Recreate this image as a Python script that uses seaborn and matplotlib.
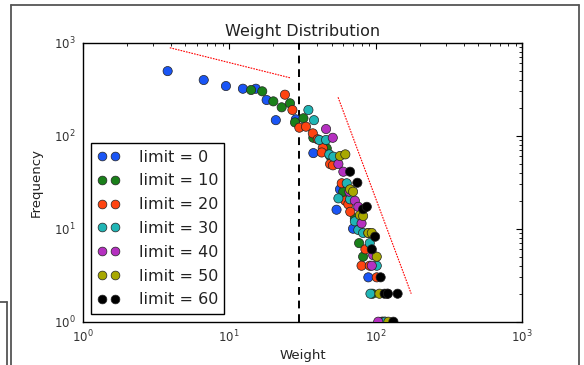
import numpy as np
import pandas as pd
import matplotlib
matplotlib.use("Agg")
import matplotlib.pyplot as plt
from matplotlib.lines import Line2D
import seaborn as sns

# ---------------- data ----------------
limits = [0, 10, 20, 30, 40, 50, 60]
labels = ["limit = %d" % l for l in limits]
colors = ["#1a55f5", "#1a801a", "#ff4411", "#20b5b5", "#b530c0", "#a8a800", "#000000"]

w0 = [3.8, 6.7, 9.5, 12.4, 15.2, 18.0, 20.8, 28.5, 37.5, 54, 57, 70, 89, 110]
f0 = [495, 397, 342, 320, 320, 242, 147, 150, 65, 16, 26.5, 10, 3, 1]

w10 = [14.1, 16.8, 20.0, 22.8, 26.0, 28.1, 32.1, 37.5, 46.3, 48.8, 60, 72, 77, 82, 95, 112]
f10 = [310, 300, 234, 202, 223, 139, 154, 95, 73, 60.5, 25, 12.9, 7.0, 5.0, 2, 1]

w20 = [24.0, 27.0, 30.1, 33.4, 37.2, 40.2, 43.5, 42.8, 48.8, 51, 58.6, 62, 65, 67, 74, 80, 85, 91, 101.6, 120, 115]
f20 = [276, 189, 122, 125, 106, 91.5, 74, 66, 49.6, 48, 30.8, 20, 18.3, 15.2, 12, 4, 6, 4, 3, 2, 1]

w30 = [34.7, 37.9, 41.2, 45.8, 48.2, 51.4, 55.6, 63.4, 66.8, 72, 76, 82, 91, 101.6, 92, 116]
f30 = [189, 147, 90, 90, 63, 59.5, 21.2, 30.8, 20.7, 12, 9.7, 9, 7, 4, 2, 1]

w40 = [45.8, 50.9, 55.6, 60.1, 66, 72, 76, 80, 89, 94, 96, 104]
f40 = [118, 95, 49.6, 41, 25, 20, 17.2, 11.4, 9, 4, 5.2, 1]

w50 = [57, 62, 66.8, 70, 78, 82, 89, 94, 101.6, 106, 122]
f50 = [60.5, 63, 26.5, 25, 14, 13.7, 9, 9, 5, 2, 1]

w60 = [66.8, 74.9, 82, 86.9, 94, 99, 108, 115, 121, 141, 132]
f60 = [41, 31.2, 16.2, 17.2, 6, 8.2, 3, 2, 2, 2, 1]

weights = [w0, w10, w20, w30, w40, w50, w60]
freqs = [f0, f10, f20, f30, f40, f50, f60]

cut_x = 30
guide1_x = [3.93, 26.4]
guide1_y = [883, 417]
guide2_x = [55.3, 174.6]
guide2_y = [259, 2.0]

# ---------------- figure ----------------
sns.set_style("white")
plt.rcParams["font.family"] = ["DejaVu Sans"]
plt.rcParams.update({
    "xtick.direction": "in", "ytick.direction": "in",
    "xtick.top": True, "ytick.right": True,
    "xtick.major.size": 4, "ytick.major.size": 4,
    "xtick.minor.size": 2, "ytick.minor.size": 2,
    "xtick.minor.visible": True, "ytick.minor.visible": True,
    "axes.edgecolor": "black", "axes.linewidth": 1.0,
    "xtick.color": "black", "ytick.color": "black",
    "text.color": "#222222", "axes.labelcolor": "#222222",
})

fig = plt.figure(figsize=(5.84, 3.65), dpi=100)
ax = fig.add_axes([0.1416, 0.1186, 0.7527, 0.7644])

rows = []
for lab, ws, fs in zip(labels, weights, freqs):
    for w, f in zip(ws, fs):
        rows.append((lab, w, f))
df = pd.DataFrame(rows, columns=["series", "Weight", "Frequency"])

sns.scatterplot(data=df, x="Weight", y="Frequency", hue="series",
                hue_order=labels, palette=colors, s=44,
                edgecolor="#222222", linewidth=0.5, legend=False, ax=ax, zorder=3)

ax.axvline(cut_x, color="black", linestyle=(0, (4, 3)), linewidth=1.4, zorder=2)
ax.plot(guide1_x, guide1_y, color="red", linestyle=(0, (1.5, 1)), linewidth=0.8)
ax.plot(guide2_x, guide2_y, color="red", linestyle=(0, (1.5, 1)), linewidth=0.8)

ax.set_xscale("log")
ax.set_yscale("log")
ax.set_xlim(1, 1000)
ax.set_ylim(1, 1000)
ax.set_title("Weight Distribution", fontsize=11.5, pad=5)
ax.set_xlabel("Weight", fontsize=9.5, labelpad=3)
ax.set_ylabel("Frequency", fontsize=9.5, labelpad=8)
ax.tick_params(axis="both", which="major", labelsize=8.5, pad=5, colors="black",
               labelcolor="#333333")

handles = [Line2D([0], [0], marker="o", linestyle="none", markerfacecolor=c,
                  markeredgecolor="#222222", markeredgewidth=0.5, markersize=6.3)
           for c in colors]
leg = ax.legend(handles, labels, loc="lower left", numpoints=2, fontsize=11.5,
                frameon=True, fancybox=False, edgecolor="black", framealpha=1,
                borderaxespad=0.5, handlelength=1.4, handletextpad=1.2,
                labelspacing=0.55, borderpad=0.4)
leg.get_frame().set_linewidth(1.0)

# screenshot frame lines
fc = "#555555"
def fline(xs, ys):
    fig.add_artist(Line2D([x / 584 for x in xs], [1 - y / 365 for y in ys],
                          transform=fig.transFigure, color=fc, linewidth=1.3))
fline([11, 11], [5, 365])
fline([11, 579], [5, 5])
fline([579, 579], [5, 365])
fline([0, 7], [302, 302])
fline([7, 7], [302, 365])

fig.savefig("out.png", dpi=100)
